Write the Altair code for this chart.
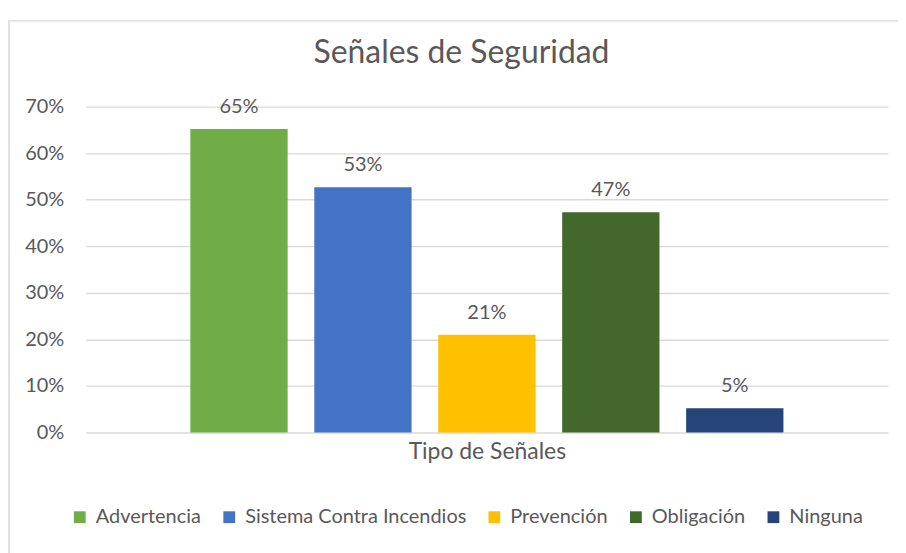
import altair as alt
import pandas as pd

categories = ["Advertencia", "Sistema Contra Incendios", "Prevención", "Obligación", "Ninguna"]
values = [0.652, 0.527, 0.210, 0.473, 0.052]
colors = ["#70AD47", "#4472C4", "#FFC000", "#43682B", "#264478"]
y_ticks = [0, 0.1, 0.2, 0.3, 0.4, 0.5, 0.6, 0.7]
chart_title = "Señales de Seguridad"
x_title = "Tipo de Señales"

df = pd.DataFrame({"serie": categories, "valor": values})

TXT = "#595959"
FONT = "Lato"

x_enc = alt.X(
    "serie:N",
    sort=categories,
    scale=alt.Scale(paddingInner=0.215, paddingOuter=0.844),
    axis=alt.Axis(labels=False, ticks=False, domain=False, grid=False, title=x_title,
                  titleFontSize=23, titleColor=TXT, titleFont=FONT, titleFontWeight="normal",
                  titlePadding=8),
)
y_enc = alt.Y(
    "valor:Q",
    scale=alt.Scale(domain=[0, 0.7], nice=False),
    axis=alt.Axis(values=y_ticks, format=".0%", title=None, ticks=False, domain=False,
                  labelFontSize=20, labelColor=TXT, labelFont=FONT, labelPadding=22,
                  gridColor="#D9D9D9", gridWidth=1.4),
)

bars = alt.Chart(df).mark_bar().encode(
    x=x_enc,
    y=y_enc,
    color=alt.Color(
        "serie:N",
        sort=categories,
        scale=alt.Scale(domain=categories, range=colors),
        legend=alt.Legend(orient="none", legendX=-16, legendY=402, direction="horizontal",
                          title=None, symbolType="square", symbolSize=140, symbolStrokeWidth=0,
                          labelFontSize=20, labelColor=TXT, labelFont=FONT, columnPadding=18,
                          labelOffset=6, columns=5, labelLimit=400),
    ),
)

labels = alt.Chart(df).mark_text(baseline="alphabetic", dy=-16, fontSize=20, color=TXT, font=FONT).encode(
    x=alt.X("serie:N", sort=categories),
    y="valor:Q",
    text=alt.Text("valor:Q", format=".0%"),
)

one = pd.DataFrame({"t": [chart_title]})

border = alt.Chart(one).mark_rect(
    fill=None, stroke="#D9D9D9", strokeWidth=1.5
).encode(x=alt.value(-77), x2=alt.value(840), y=alt.value(-86), y2=alt.value(480))

title = alt.Chart(one).mark_text(
    fontSize=32, font=FONT, color=TXT, baseline="alphabetic", align="center"
).encode(x=alt.value(377), y=alt.value(-44), text="t:N")

chart = (
    alt.layer(border, bars, labels, title)
    .properties(
        width=805,
        height=327,
        padding={"left": 78, "top": 98, "right": 10, "bottom": 120},
        autosize=alt.AutoSizeParams(type="none"),
        view=alt.ViewBackground(stroke="transparent", strokeWidth=0),
    )
    .configure_view(strokeWidth=0, stroke="transparent")
    .configure(font=FONT)
)

chart.save("out.html", embed_options={"renderer": "svg", "actions": False})
